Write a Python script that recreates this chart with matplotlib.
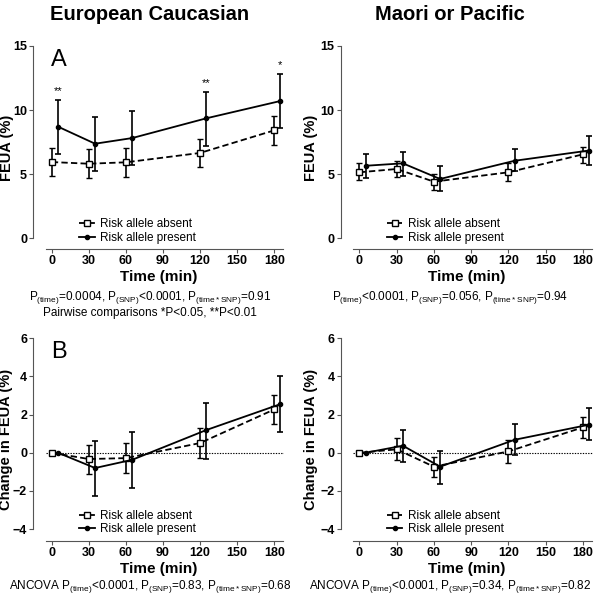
import matplotlib
matplotlib.use("Agg")
import matplotlib.pyplot as plt
from matplotlib.lines import Line2D

plt.rcParams['font.family'] = ['Liberation Sans', 'DejaVu Sans']
plt.rcParams['mathtext.fontset'] = 'custom'
plt.rcParams['mathtext.rm'] = 'Liberation Sans'

# time points (min); risk allele present is drawn 5 min to the right
time_absent = [0, 30, 60, 120, 180]
time_present = [5, 35, 65, 125, 185]

# A: FEUA (%), European Caucasian
eu_abs = [5.95, 5.82, 5.93, 6.66, 8.42]
eu_abs_lo = [4.84, 4.70, 4.80, 5.56, 7.30]
eu_abs_hi = [7.07, 6.97, 7.07, 7.77, 9.54]
eu_pre = [8.71, 7.38, 7.82, 9.36, 10.71]
eu_pre_lo = [6.58, 5.25, 5.72, 7.22, 8.60]
eu_pre_hi = [10.79, 9.46, 9.93, 11.44, 12.84]
eu_stars = ['**', '', '', '**', '*']

# A: FEUA (%), Maori or Pacific
mp_abs = [5.15, 5.41, 4.42, 5.15, 6.55]
mp_abs_lo = [4.52, 4.78, 3.77, 4.47, 5.90]
mp_abs_hi = [5.85, 6.03, 4.99, 5.85, 7.10]
mp_pre = [5.66, 5.85, 4.63, 6.05, 6.85]
mp_pre_lo = [4.70, 4.88, 3.69, 5.22, 5.72]
mp_pre_hi = [6.60, 6.76, 5.62, 6.97, 7.97]

# B: change in FEUA (%), European Caucasian
eu_d_abs = [0, -0.33, -0.28, 0.51, 2.27]
eu_d_abs_lo = [0, -1.13, -1.08, -0.26, 1.50]
eu_d_abs_hi = [0, 0.40, 0.51, 1.28, 3.04]
eu_d_pre = [0, -0.80, -0.37, 1.19, 2.55]
eu_d_pre_lo = [0, -2.27, -1.83, -0.31, 1.08]
eu_d_pre_hi = [0, 0.63, 1.07, 2.62, 4.00]

# B: change in FEUA (%), Maori or Pacific
mp_d_abs = [0, 0.18, -0.73, 0.07, 1.33]
mp_d_abs_lo = [0, -0.40, -1.27, -0.52, 0.77]
mp_d_abs_hi = [0, 0.75, -0.21, 0.65, 1.86]
mp_d_pre = [0, 0.37, -0.73, 0.68, 1.47]
mp_d_pre_lo = [0, -0.49, -1.62, -0.14, 0.67]
mp_d_pre_hi = [0, 1.21, 0.09, 1.49, 2.33]

xticks = [0, 30, 60, 90, 120, 150, 180]

dash = (0, (3.5, 1.8))


def err(m, lo, hi):
    return [[a - b for a, b in zip(m, lo)], [c - a for a, c in zip(m, hi)]]


def panel(ax, y_abs, lo_abs, hi_abs, y_pre, lo_pre, hi_pre, ylim, ybounds, yticks,
          ylabel, labx):
    ax.errorbar(time_absent, y_abs, yerr=err(y_abs, lo_abs, hi_abs), color='black',
                lw=1.3, ls=dash, marker='s', ms=4, mfc='white', mec='black',
                mew=1.0, capsize=2.5, elinewidth=1.2, capthick=1.2, zorder=3)
    ax.errorbar(time_present, y_pre, yerr=err(y_pre, lo_pre, hi_pre), color='black',
                lw=1.3, ls='-', marker='o', ms=3, mfc='black', mec='black',
                capsize=2.5, elinewidth=1.2, capthick=1.2, zorder=4)
    ax.set_xlim(-15, 188)
    ax.set_ylim(*ylim)
    ax.spines['top'].set_visible(False)
    ax.spines['right'].set_visible(False)
    ax.spines['left'].set_bounds(*ybounds)
    ax.spines['bottom'].set_bounds(-5, 187)
    ax.spines['left'].set_color('#555555')
    ax.spines['bottom'].set_color('#555555')
    ax.set_xticks(xticks)
    ax.set_yticks(yticks)
    ax.tick_params(length=3, width=0.8, color='#555555', labelsize=9, pad=1.5)
    for lab in ax.get_xticklabels() + ax.get_yticklabels():
        lab.set_fontweight('bold')
    ax.set_xlabel('Time (min)', fontsize=11, fontweight='bold', labelpad=2)
    ax.set_ylabel(ylabel, fontsize=10.5, fontweight='bold')
    ax.yaxis.set_label_coords(labx, 0.5)
    handles = [
        Line2D([], [], color='black', lw=1.3, ls=dash, marker='s', ms=4,
               mfc='white', mec='black', mew=1.0),
        Line2D([], [], color='black', lw=1.3, ls='-', marker='o', ms=3,
               mfc='black', mec='black'),
    ]
    ax.legend(handles, ['Risk allele absent', 'Risk allele present'],
              loc='lower left', bbox_to_anchor=(0.15, -0.015), frameon=False,
              fontsize=8.5, handlelength=1.3, handletextpad=0.5,
              labelspacing=0.15, borderpad=0.2)


fig = plt.figure(figsize=(6.0, 5.98), dpi=100)

axA1 = fig.add_axes([0.0555, 0.5836, 0.418, 0.3395])
axA2 = fig.add_axes([0.568, 0.5836, 0.420, 0.3395])
axB1 = fig.add_axes([0.0555, 0.0958, 0.418, 0.3385])
axB2 = fig.add_axes([0.568, 0.0958, 0.420, 0.3385])

panel(axA1, eu_abs, eu_abs_lo, eu_abs_hi, eu_pre, eu_pre_lo, eu_pre_hi,
      (-0.83, 15), (0, 15), [0, 5, 10, 15], 'FEUA (%)', -0.075)
panel(axA2, mp_abs, mp_abs_lo, mp_abs_hi, mp_pre, mp_pre_lo, mp_pre_hi,
      (-0.83, 15), (0, 15), [0, 5, 10, 15], 'FEUA (%)', -0.092)
panel(axB1, eu_d_abs, eu_d_abs_lo, eu_d_abs_hi, eu_d_pre, eu_d_pre_lo, eu_d_pre_hi,
      (-4.61, 6), (-4, 6), [-4, -2, 0, 2, 4, 6], 'Change in FEUA (%)', -0.082)
panel(axB2, mp_d_abs, mp_d_abs_lo, mp_d_abs_hi, mp_d_pre, mp_d_pre_lo, mp_d_pre_hi,
      (-4.61, 6), (-4, 6), [-4, -2, 0, 2, 4, 6], 'Change in FEUA (%)', -0.092)

for ax in (axB1, axB2):
    ax.axhline(0, xmin=0.05, color='black', lw=0.8, ls=(0, (1.2, 1.2)), zorder=1)

for x, top, s in zip(time_present, eu_pre_hi, eu_stars):
    if s:
        axA1.text(x, top + 0.3, s, ha='center', va='bottom', fontsize=8)

axA1.text(0.07, 0.985, 'A', transform=axA1.transAxes, fontsize=17, va='top', ha='left')
axB1.text(0.07, 0.985, 'B', transform=axB1.transAxes, fontsize=17, va='top', ha='left')

fig.text(0.25, 0.975, 'European Caucasian', ha='center', va='center',
         fontsize=14.5, fontweight='bold')
fig.text(0.75, 0.975, 'Maori or Pacific', ha='center', va='center',
         fontsize=14.5, fontweight='bold')

sub = lambda s: r'$_{\mathregular{(' + s + r')}}$'
fs = 8.5
fig.text(0.25, 0.502, 'P' + sub('time') + '=0.0004, P' + sub('SNP') + '<0.0001, P'
         + sub('time*SNP') + '=0.91', ha='center', va='center', fontsize=fs)
fig.text(0.25, 0.476, 'Pairwise comparisons *P<0.05, **P<0.01', ha='center',
         va='center', fontsize=fs)
fig.text(0.75, 0.502, 'P' + sub('time') + '<0.0001, P' + sub('SNP') + '=0.056, P'
         + sub('time*SNP') + '=0.94', ha='center', va='center', fontsize=fs)
fig.text(0.25, 0.020, 'ANCOVA P' + sub('time') + '<0.0001, P' + sub('SNP') + '=0.83, P'
         + sub('time*SNP') + '=0.68', ha='center', va='center', fontsize=fs)
fig.text(0.75, 0.020, 'ANCOVA P' + sub('time') + '<0.0001, P' + sub('SNP') + '=0.34, P'
         + sub('time*SNP') + '=0.82', ha='center', va='center', fontsize=fs)

fig.savefig('out.png', dpi=100)
